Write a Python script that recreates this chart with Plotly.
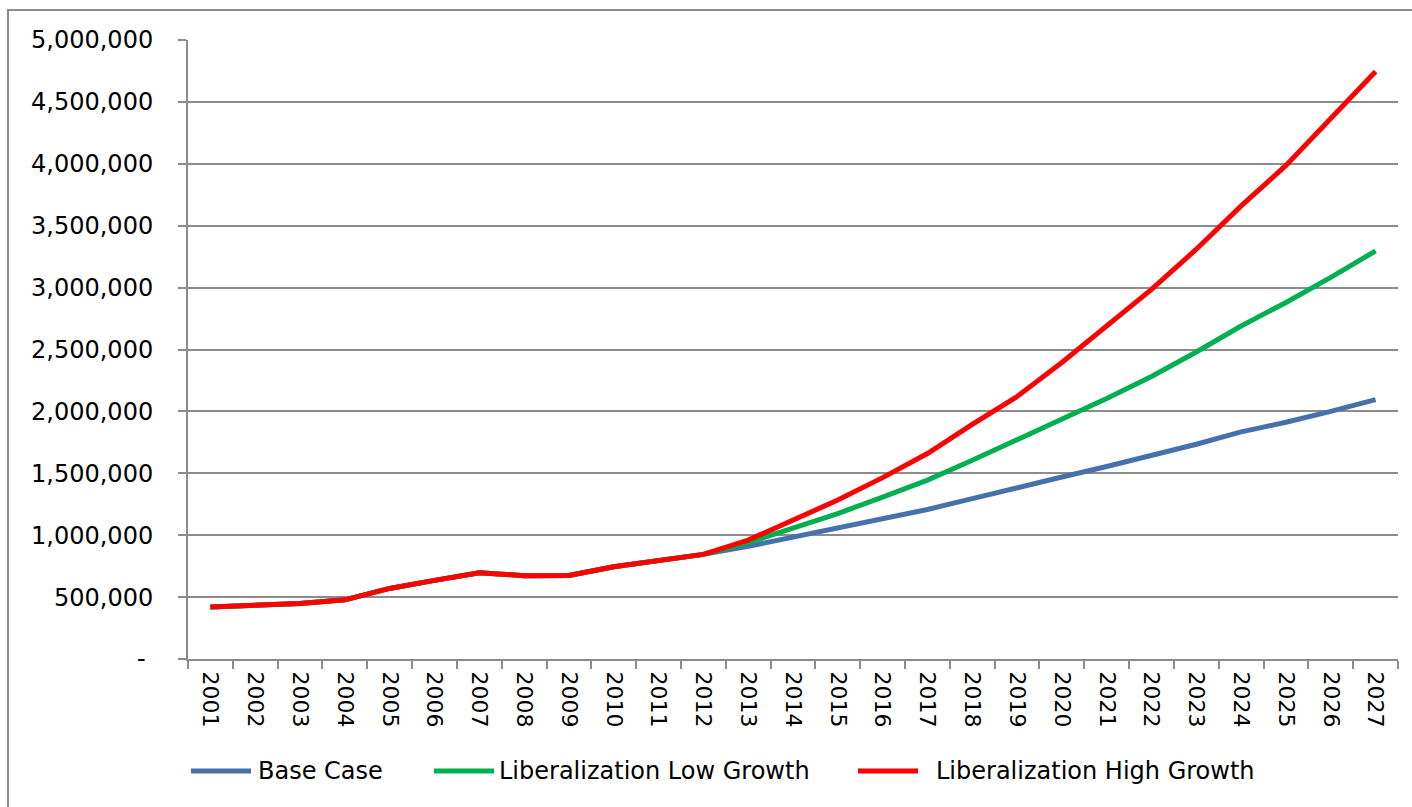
import plotly.graph_objects as go

# Passenger volume scenarios by year
years = [str(y) for y in range(2001, 2028)]

history = [420000, 435000, 448000, 478000, 570000, 635000, 697000,
           673000, 675000, 745000, 790000, 845000]

base_case = history + [910000, 985000, 1057000, 1135000, 1208000, 1295000,
                       1378000, 1470000, 1555000, 1640000, 1735000, 1835000,
                       1912000, 2000000, 2095000]
low_growth = history + [940000, 1054000, 1175000, 1308000, 1445000, 1605000,
                        1770000, 1935000, 2105000, 2282000, 2480000, 2690000,
                        2880000, 3083000, 3296000]
high_growth = history + [960000, 1120000, 1284000, 1465000, 1660000, 1895000,
                         2120000, 2395000, 2690000, 2985000, 3310000, 3660000,
                         3987000, 4368000, 4745000]

series_names = ["Base Case", "Liberalization Low Growth", "Liberalization High Growth"]
series_values = [base_case, low_growth, high_growth]
series_colors = ["#4672AC", "#00B050", "#FF0000"]

y_ticks = list(range(0, 5000001, 500000))
y_tick_text = ["-\u00a0" if v == 0 else f"{v:,}" for v in y_ticks]

W, H = 1412, 807
L, R, T, B = 188, 14, 40, 148
PW, PH = W - L - R, H - T - B


def px_x(px):
    return (px - L) / PW


def px_y(py):
    return (H - B - py) / PH


FONT = "DejaVu Sans"
GRID = "#8C8C8C"

fig = go.Figure()
for name, vals, col in zip(series_names, series_values, series_colors):
    fig.add_trace(go.Scatter(x=years, y=vals, name=name, mode="lines",
                             line=dict(color=col, width=5),
                             showlegend=False))

# Hand-built legend row below the axis
legend_items = [(191, 251, 256), (434, 494, 497), (858, 918, 934)]
shapes = []
annotations = []
for (x0, x1, tx), name, col in zip(legend_items, series_names, series_colors):
    shapes.append(dict(type="line", xref="paper", yref="paper",
                       x0=px_x(x0), x1=px_x(x1), y0=px_y(771), y1=px_y(771),
                       line=dict(color=col, width=5)))
    annotations.append(dict(text=name, xref="paper", yref="paper",
                            x=px_x(tx), y=px_y(771), xanchor="left",
                            yanchor="middle", showarrow=False,
                            font=dict(family=FONT, size=24, color="black")))

# Chart frame
shapes.append(dict(type="rect", xref="paper", yref="paper",
                   x0=px_x(8), x1=px_x(W + 20), y0=px_y(10), y1=px_y(H + 20),
                   line=dict(color="#8C8C8C", width=2), layer="below"))

fig.update_layout(
    width=W, height=H,
    margin=dict(l=L, r=R, t=T, b=B),
    plot_bgcolor="white", paper_bgcolor="white",
    font=dict(family=FONT, size=24, color="black"),
    shapes=shapes, annotations=annotations,
    xaxis=dict(type="category", range=[-0.5, len(years) - 0.5],
               tickson="boundaries", ticks="outside", ticklen=8,
               tickcolor=GRID, tickwidth=2, tickangle=90,
               showline=True, linecolor=GRID, linewidth=2,
               showgrid=False, tickfont=dict(size=22),
               ticklabelstandoff=6),
    yaxis=dict(range=[0, 5000000], tickmode="array", tickvals=y_ticks,
               ticktext=y_tick_text, ticks="outside", ticklen=8,
               tickcolor=GRID, tickwidth=2, showline=True, linecolor=GRID,
               linewidth=2, showgrid=True, gridcolor=GRID, gridwidth=1.5,
               zeroline=False, ticklabelstandoff=20),
)

fig.write_html("out.html")
